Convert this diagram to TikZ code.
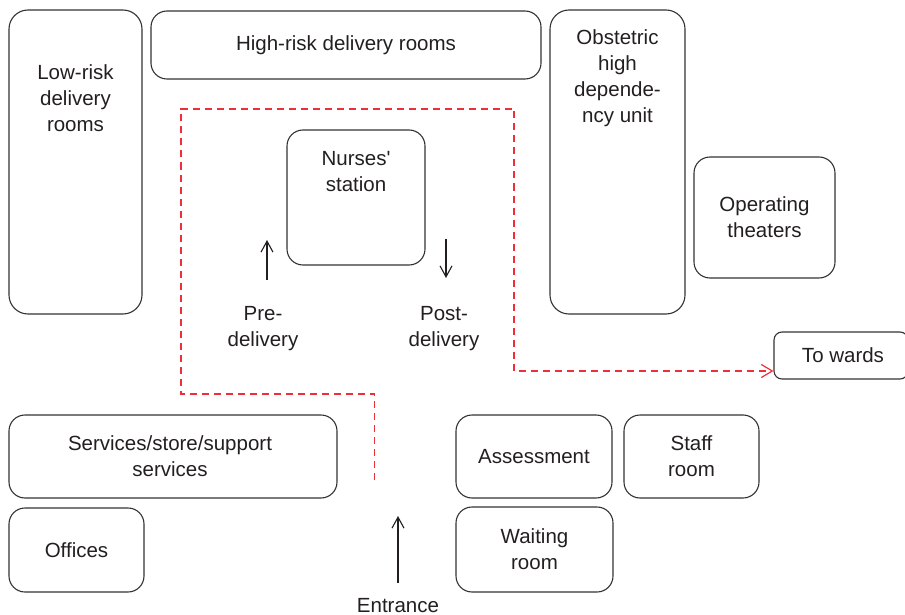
\documentclass[tikz,border=0pt]{standalone}
\usepackage{fontspec}
\setmainfont{Liberation Sans}
\usetikzlibrary{arrows.meta}
\definecolor{ink}{HTML}{231F20}
\definecolor{edge}{HTML}{333333}
\definecolor{pathred}{HTML}{EE2E38}
\tikzset{
  room/.style={draw=edge, line width=1.1pt, rounded corners=16pt, inner sep=0pt},
  tallroom/.style={room, rounded corners=19pt},
  txt/.style={text=ink, align=center, inner sep=0pt, font=\fontsize{20.5}{26}\selectfont},
  flow/.style={draw=ink, line width=1.1pt, -{Straight Barb[length=11pt,width=12pt,line width=1.1pt]}},
  route/.style={draw=pathred, line width=1.2pt, dash pattern=on 7pt off 5pt,
    -{Straight Barb[length=11pt,width=13pt,line width=1.2pt]}}
}
\begin{document}
\begin{tikzpicture}[x=1pt,y=-1pt]
\useasboundingbox (0,0) rectangle (905,615);
% rooms
\node[tallroom, minimum width=133pt, minimum height=304pt] (low) at (75.5,162) {};
\node[txt] (lowt) at (75.5,98) {Low-risk\\delivery\\rooms};
\node[room, minimum width=390pt, minimum height=68pt, txt] (high) at (346,45) {High-risk delivery rooms};
\node[tallroom, minimum width=135pt, minimum height=304pt] (ohdu) at (617.5,162) {};
\node[txt] (ohdut) at (617.5,78) {Obstetric\\high\\depende-\\ncy unit};
\node[room, minimum width=141pt, minimum height=121pt, txt] (ot) at (764.5,217.5) {Operating\\theaters};
\node[room, minimum width=138pt, minimum height=135pt] (ns) at (356,197.5) {};
\node[txt] (nst) at (356,171.5) {Nurses\textquotesingle\\station};
\node[room, rounded corners=8pt, minimum width=134pt, minimum height=47pt] (wards) at (841,355.5) {};
\node[txt] (wardst) at (843,355) {To wards};
\node[room, minimum width=328pt, minimum height=83pt] (serv) at (173,456.5) {};
\node[txt] (servt) at (170,456.5) {Services/store/support\\services};
\node[room, minimum width=135pt, minimum height=84pt, txt] (off) at (76.5,550) {Offices};
\node[room, minimum width=156pt, minimum height=83pt, txt] (assess) at (534,456.5) {Assessment};
\node[room, minimum width=135pt, minimum height=83pt, txt] (staff) at (691.5,456.5) {Staff\\room};
\node[room, minimum width=157pt, minimum height=85pt, txt] (wait) at (534.5,549.5) {Waiting\\room};
% labels
\node[txt] (pre) at (263,329) {Pre-\\delivery};
\node[txt] (post) at (444,329) {Post-\\delivery};
\node[txt, anchor=base] (ent) at (398,612) {Entrance};
% arrows
\coordinate (preA) at (267,280);
\coordinate (preB) at (267,240);
\coordinate (postA) at (446,239);
\coordinate (postB) at (446,278);
\coordinate (entA) at (398,583);
\coordinate (entB) at (398,516);
\draw[flow] (preA) -- (preB);
\draw[flow] (postA) -- (postB);
\draw[flow] (entA) -- (entB);
% route
\coordinate (r0) at (374.5,480);
\coordinate (r1) at (374.5,394);
\coordinate (r2) at (181,394);
\coordinate (r3) at (181,109);
\coordinate (r4) at (514,109);
\coordinate (r5) at (514,371);
\coordinate (r6) at (773.5,371);
\draw[route] (r0) -- (r1) -- (r2) -- (r3) -- (r4) -- (r5) -- (r6);
\end{tikzpicture}
\end{document}
